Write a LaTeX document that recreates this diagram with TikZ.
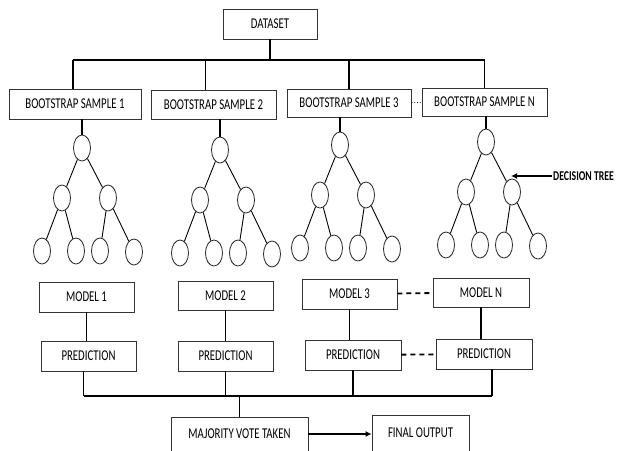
\documentclass[tikz,border=0pt]{standalone}
\usepackage{fontspec}
\usepackage{graphicx}
\setmainfont{Carlito}
\usetikzlibrary{shapes.geometric,arrows.meta}
\newcommand{\narrow}[1]{\scalebox{0.72}[1]{#1}}
\tikzset{
  box/.style={draw=black!80, line width=0.9pt, minimum height=30pt, inner sep=0pt, text=black},
  leaf/.style={ellipse, draw=black!85, line width=0.8pt, minimum width=17pt, minimum height=26pt, inner sep=0pt},
  link/.style={line width=1.2pt},
  bus/.style={line width=2pt},
  branch/.style={line width=0.9pt},
  dashlink/.style={line width=1.8pt, dash pattern=on 5pt off 4pt},
}

\begin{document}
\begin{tikzpicture}[x=1pt,y=1pt,font=\fontsize{15}{17}\selectfont]
      \path[fill=white, use as bounding box] (0,0) rectangle (620,-450);

      \node[box, minimum width=94pt] (dataset) at (270,-24) {\narrow{DATASET}};
      \node[box, minimum width=132pt] (bs1) at (75,-104) {\narrow{BOOTSTRAP SAMPLE 1}};
      \node[box, minimum width=125pt, minimum height=29pt] (bs2) at (213.5,-104.5) {\narrow{BOOTSTRAP SAMPLE 2}};
      \node[box, minimum width=124pt, minimum height=28pt] (bs3) at (349,-103) {\narrow{BOOTSTRAP SAMPLE 3}};
      \node[box, minimum width=125pt, minimum height=28pt] (bsn) at (484.5,-102) {\narrow{BOOTSTRAP SAMPLE N}};

      \coordinate (split) at (270,-60);
      \draw [link] (dataset) -- (split);
      \draw [bus] ([xshift=-2pt]bs1.north |- split) -- (bsn.north |- split);
      \draw [link] ([xshift=-2pt]bs1.north |- split) -- ([xshift=-2pt]bs1.north);
      \draw [link] ([xshift=-8pt]bs2.north |- split) -- ([xshift=-8pt]bs2.north);
      \draw [link] (bs3.north |- split) -- (bs3.north);
      \draw [link] (bsn.north |- split) -- (bsn.north);
      \draw [line width=0.8pt, dotted] (bs3) -- (bsn);

      \foreach \k/\x/\y in {1/82/148, 2/220/150, 3/340/145, n/486/142}{
        \begin{scope}[shift={(\x,-\y)}]
          \node[leaf] (t\k) at (0,0) {};
          \node[leaf] (t\k-l) at (-20,-50) {};
          \node[leaf] (t\k-r) at (26,-50) {};
          \node[leaf] (t\k-ll) at (-40,-103) {};
          \node[leaf] (t\k-lr) at (-6,-103) {};
          \node[leaf] (t\k-rl) at (18,-103) {};
          \node[leaf] (t\k-rr) at (52,-104) {};
        \end{scope}
        \draw [branch] (t\k) -- (t\k-l) (t\k) -- (t\k-r);
        \draw [branch] (t\k-l) -- (t\k-ll) (t\k-l) -- (t\k-lr);
        \draw [branch] (t\k-r) -- (t\k-rl) (t\k-r) -- (t\k-rr);
        \draw [link] (t\k |- bs\k.south) -- (t\k);
      }

      \node[anchor=west, inner sep=1pt, font=\fontsize{13.5}{15}\selectfont\bfseries] (dtlabel) at (552,-176) {\scalebox{0.72}[1]{DECISION TREE}};
      \coordinate (dttip) at (511,-176);
      \draw [line width=1.8pt, -{Latex[length=6pt,width=6pt]}] (dtlabel) -- (dttip);

      \node[box, minimum width=95pt] (m1) at (86.5,-297) {\narrow{MODEL 1}};
      \node[box, minimum width=95pt, minimum height=29pt] (m2) at (225.5,-295.5) {\narrow{MODEL 2}};
      \node[box, minimum width=95pt] (m3) at (349.5,-294) {\narrow{MODEL 3}};
      \node[box, minimum width=96pt, minimum height=29pt] (mn) at (481,-292.5) {\narrow{MODEL N}};
      \node[box, minimum width=95pt] (p1) at (88.5,-356) {\narrow{PREDICTION}};
      \node[box, minimum width=95pt] (p2) at (225.5,-356) {\narrow{PREDICTION}};
      \node[box, minimum width=96pt] (p3) at (353,-355) {\narrow{PREDICTION}};
      \node[box, minimum width=96pt] (pn) at (484,-354) {\narrow{PREDICTION}};

      \foreach \k in {1,2,3,n}
        \draw [link] (m\k.south) -- (m\k.south |- p\k.north);
      \draw [dashlink] (m3) -- (mn);
      \draw [dashlink] (p3) -- (pn);

      \node[box, minimum width=137pt, minimum height=34pt] (vote) at (239.5,-434) {\narrow{MAJORITY VOTE TAKEN}};
      \node[box, minimum width=97pt, minimum height=36pt] (final) at (420.5,-433) {\narrow{FINAL OUTPUT}};

      \coordinate (merge) at (239.5,-396);
      \draw [bus] ([xshift=-5pt]p1.south |- merge) -- ([xshift=8pt]pn.south |- merge);
      \draw [link] ([xshift=-5pt]p1.south) -- ([xshift=-5pt]p1.south |- merge);
      \draw [link] (p2.south) -- (p2.south |- merge);
      \draw [link] (p3.south) -- (p3.south |- merge);
      \draw [link] ([xshift=8pt]pn.south) -- ([xshift=8pt]pn.south |- merge);
      \draw [link] (merge) -- (vote);
      \draw [line width=1.8pt, -{Latex[length=6pt,width=6pt]}] (vote.east) -- (vote.east -| final.west);
\end{tikzpicture}
\end{document}
